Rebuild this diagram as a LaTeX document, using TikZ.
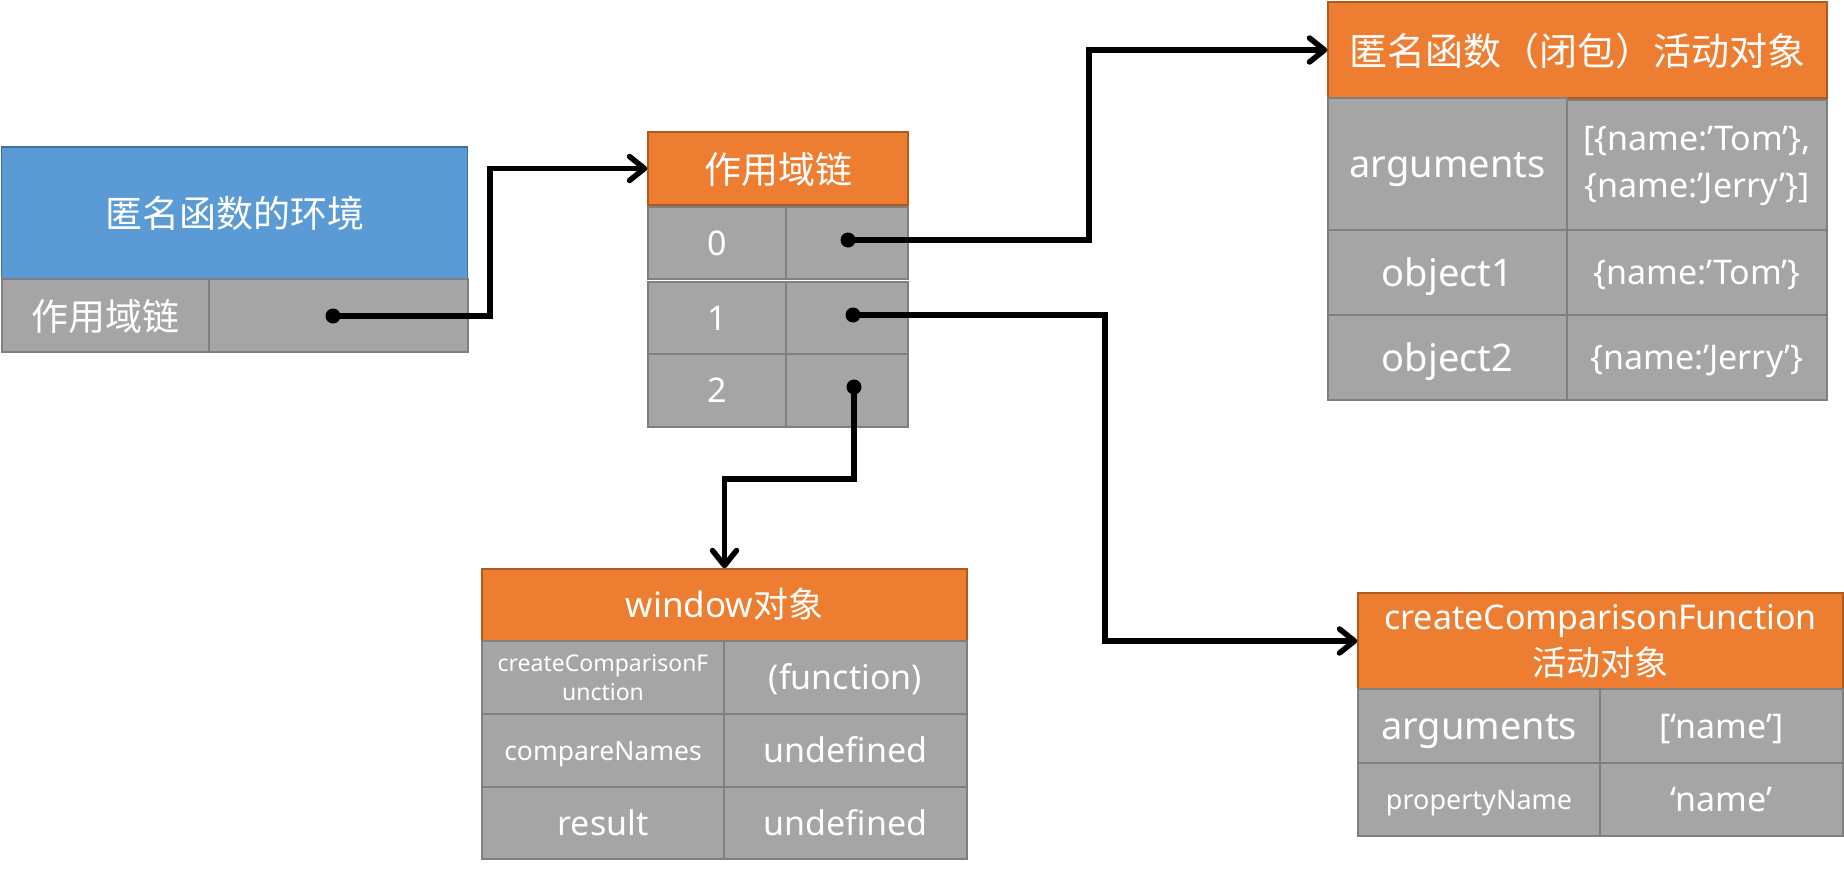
\documentclass[tikz,border=0pt]{standalone}
\usepackage{fontspec}
\setmainfont{Noto Sans}
\newfontfamily\cjk{Noto Sans CJK SC}
\usepackage{tikz}
\usetikzlibrary{arrows.meta}
\usepackage{xcolor}

\definecolor{hdrorange}{HTML}{ED7D31}
\definecolor{hdrline}{HTML}{AE5A21}
\definecolor{envblue}{HTML}{5B9BD5}
\definecolor{envline}{HTML}{41719C}
\definecolor{cellgray}{HTML}{A5A5A5}
\definecolor{cellline}{HTML}{7F7F7F}

\newcommand{\txtsz}[2]{\fontsize{#1}{#2}\selectfont}

\begin{document}
\begin{tikzpicture}[x=1pt,y=-1pt,
  envhdr/.style={draw=envline,fill=envblue,text=white,line width=1.5pt,inner sep=0pt,align=center},
  hdr/.style={draw=hdrline,fill=hdrorange,text=white,line width=1.5pt,inner sep=0pt,align=center},
  cell/.style={draw=cellline,fill=cellgray,text=white,line width=2pt,inner sep=0pt,align=center},
  latin/.style={font={\txtsz{#1}{#1}},text height={0.76*#1},text depth={0.04*#1}},
  hanzi/.style={font={\cjk\txtsz{#1}{#1}},text height={0.84*#1},text depth={0.04*#1}},
  link/.style={black,line width=5.5pt,->},
  >={Straight Barb[length=15pt,width=24pt,round]}]
\useasboundingbox (0,0) rectangle (1844,869);

% environment of the anonymous function
\node[envhdr,hanzi=37,minimum width=466,minimum height=132] (env) at (234.5,213) {匿名函数的环境};
\node[cell,hanzi=37,minimum width=207,minimum height=73] (envkey) at (105,315.5) {作用域链};
\node[cell,minimum width=259,minimum height=73] (envval) at (338.5,315.5) {};
\coordinate (envdot) at (333,316);

% scope chain
\node[hdr,hanzi=37,minimum width=260,minimum height=73] (chain) at (778,168.5) {作用域链};
\node[cell,minimum width=138,minimum height=72,font={\txtsz{34}{40}}] (idx0) at (717,243) {0};
\node[cell,minimum width=122,minimum height=72] (ref0) at (847,243) {};
\node[cell,minimum width=138,minimum height=72,font={\txtsz{34}{40}}] (idx1) at (717,318) {1};
\node[cell,minimum width=122,minimum height=72] (ref1) at (847,318) {};
\node[cell,minimum width=138,minimum height=73,font={\txtsz{34}{40}}] (idx2) at (717,390.5) {2};
\node[cell,minimum width=122,minimum height=73] (ref2) at (847,390.5) {};
\coordinate (dot0) at (848,240);
\coordinate (dot1) at (853,315);
\coordinate (dot2) at (854,387);

% closure activation object
\node[hdr,hanzi=38,minimum width=499,minimum height=96] (clos) at (1577.5,50) {匿名函数（闭包）活动对象};
\node[cell,latin=38,minimum width=239,minimum height=132] (cargs) at (1447.5,164) {arguments};
\node[cell,minimum width=260,minimum height=132,font={\txtsz{34}{47}}] (cargsv) at (1697,166) {[\{name:’Tom’\},\\\{name:’Jerry’\}]};
\node[cell,latin=38,minimum width=239,minimum height=85] (cobj1) at (1447.5,272.5) {object1};
\node[cell,latin=34,minimum width=260,minimum height=85] (cobj1v) at (1697,272.5) {\{name:’Tom’\}};
\node[cell,latin=38,minimum width=239,minimum height=85] (cobj2) at (1447.5,357.5) {object2};
\node[cell,latin=34,minimum width=260,minimum height=85] (cobj2v) at (1697,357.5) {\{name:’Jerry’\}};

% window object
\node[hdr,latin=35,minimum width=485,minimum height=72] (win) at (724.5,605) {window{\cjk 对象}};
\node[cell,minimum width=242,minimum height=73,font={\txtsz{23}{29}}] (wfn) at (603,677.5) {createComparisonF\\unction};
\node[cell,latin=34,minimum width=243,minimum height=73] (wfnv) at (845.5,677.5) {(function)};
\node[cell,latin=26.5,minimum width=242,minimum height=73] (wcmp) at (603,750.5) {compareNames};
\node[cell,latin=34,minimum width=243,minimum height=73] (wcmpv) at (845.5,750.5) {undefined};
\node[cell,latin=34,minimum width=242,minimum height=72] (wres) at (603,823) {result};
\node[cell,latin=34,minimum width=243,minimum height=72] (wresv) at (845.5,823) {undefined};

% createComparisonFunction activation object
\node[hdr,minimum width=485,minimum height=96,font={\txtsz{34}{46}}] (cmp) at (1600.5,641) {createComparisonFunction\\{\cjk 活动对象}};
\node[cell,latin=38,minimum width=242,minimum height=74] (pargs) at (1479,726) {arguments};
\node[cell,latin=34,minimum width=243,minimum height=74] (pargsv) at (1721.5,726) {[‘name’]};
\node[cell,latin=27,minimum width=242,minimum height=73] (pprop) at (1479,799.5) {propertyName};
\node[cell,latin=34,minimum width=243,minimum height=73] (ppropv) at (1721.5,799.5) {‘name’};

% connectors
\draw[link] (envdot) -- ++(157,0) |- (chain.west);
\draw[link] (dot0) -- ++(241,0) |- (clos.west);
\draw[link] (dot1) -- ++(252,0) |- (cmp.west);
\draw[link] (dot2) -- ++(0,92) -| (win.north);
\fill[black] (envdot) circle (7.5);
\fill[black] (dot0) circle (7.5);
\fill[black] (dot1) circle (7.5);
\fill[black] (dot2) circle (7.5);
\end{tikzpicture}
\end{document}
